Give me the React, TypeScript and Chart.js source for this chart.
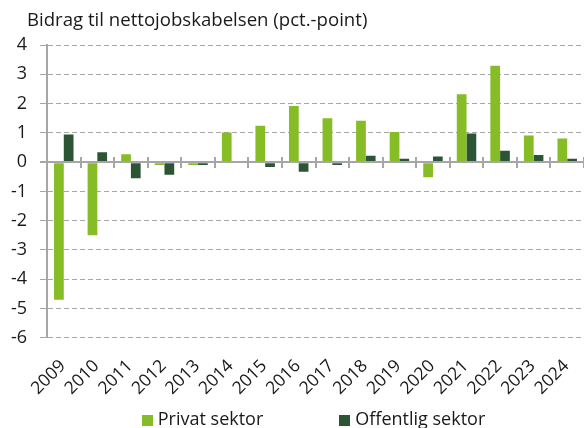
import React, { useEffect, useRef } from 'react';
import { Chart, registerables } from 'chart.js';

Chart.register(...registerables);

const TITLE = 'Bidrag til nettojobskabelsen (pct.-point)';
const years = ['2009', '2010', '2011', '2012', '2013', '2014', '2015', '2016', '2017', '2018', '2019', '2020', '2021', '2022', '2023', '2024'];
const privat = [-4.7, -2.5, 0.27, -0.1, -0.1, 1.01, 1.24, 1.92, 1.5, 1.41, 1.03, -0.52, 2.32, 3.29, 0.91, 0.81];
const offentlig = [0.94, 0.34, -0.55, -0.43, -0.1, 0.0, -0.17, -0.33, -0.1, 0.22, 0.12, 0.19, 0.98, 0.39, 0.24, 0.12];
const seriesNames = ['Privat sektor', 'Offentlig sektor'];
const seriesColors = ['#86bc25', '#2b5535'];
const yMin = -6;
const yMax = 4;
const yStep = 1;

const FONT = '"Open Sans", sans-serif';
const GRID = '#a6a6a6';
const TEXT = '#1a1a1a';

const titlePlugin = {
  id: 'leftTitle',
  afterDraw(chart: any) {
    const { ctx } = chart;
    ctx.save();
    ctx.font = `18.6px ${FONT}`;
    ctx.fillStyle = TEXT;
    ctx.textAlign = 'left';
    ctx.textBaseline = 'alphabetic';
    ctx.fillText(TITLE, 27, 26);
    ctx.restore();
  },
};

const zeroAxisPlugin = {
  id: 'zeroAxis',
  afterDatasetsDraw(chart: any) {
    const { ctx, chartArea, scales } = chart;
    const x = scales.x;
    const y = scales.y;
    const y0 = Math.round(y.getPixelForValue(0));
    ctx.save();
    ctx.strokeStyle = GRID;
    ctx.lineWidth = 2;
    ctx.beginPath();
    ctx.moveTo(chartArea.left - 7, y0);
    ctx.lineTo(chartArea.right, y0);
    const n = chart.data.labels.length;
    const step = (x.right - x.left) / n;
    for (let k = 1; k <= n; k++) {
      const px = Math.round(x.left + k * step);
      ctx.moveTo(px, y0 - 5);
      ctx.lineTo(px, y0 + 6);
    }
    ctx.stroke();
    ctx.restore();
  },
};

const legendPlugin = {
  id: 'bottomLegend',
  afterDraw(chart: any) {
    const { ctx, chartArea } = chart;
    ctx.save();
    ctx.font = `18px ${FONT}`;
    const box = 11;
    const gapText = 5;
    const gapItem = 76;
    const items = chart.data.datasets.map((ds: any) => ({
      text: ds.label,
      color: ds.backgroundColor,
      w: ctx.measureText(ds.label).width,
    }));
    const total = items.reduce((s: number, it: any) => s + box + gapText + it.w, 0) + gapItem * (items.length - 1);
    let x = (chartArea.left + chartArea.right) / 2 - 2 - total / 2;
    const baseline = chart.height - 3;
    ctx.textAlign = 'left';
    ctx.textBaseline = 'alphabetic';
    items.forEach((it: any) => {
      ctx.fillStyle = it.color;
      ctx.fillRect(Math.round(x), baseline - 10, box, box);
      ctx.fillStyle = TEXT;
      ctx.fillText(it.text, x + box + gapText, baseline);
      x += box + gapText + it.w + gapItem;
    });
    ctx.restore();
  },
};

export default function App() {
  const ref = useRef<HTMLCanvasElement>(null);
  useEffect(() => {
    document.body.style.margin = '0';
    const chart = new Chart(ref.current!, {
      type: 'bar',
      data: {
        labels: years,
        datasets: [
          { label: seriesNames[0], data: privat, backgroundColor: seriesColors[0], borderWidth: 0, categoryPercentage: 0.58, barPercentage: 1 },
          { label: seriesNames[1], data: offentlig, backgroundColor: seriesColors[1], borderWidth: 0, categoryPercentage: 0.58, barPercentage: 1 },
        ],
      },
      options: {
        responsive: false,
        animation: false,
        layout: { padding: { left: 11, right: 0, top: 45, bottom: 11 } },
        plugins: {
          legend: { display: false },
          title: { display: false },
          tooltip: { enabled: false },
        },
        scales: {
          x: {
            grid: { display: false, drawTicks: false },
            border: { display: false },
            ticks: {
              font: { family: FONT, size: 17.5 },
              color: TEXT,
              maxRotation: 45,
              minRotation: 45,
              padding: 18,
              labelOffset: -1,
              autoSkip: false,
            },
            afterFit: (s: any) => {
              s.paddingLeft = 0;
              s.paddingRight = 0;
            },
          },
          y: {
            min: yMin,
            max: yMax,
            ticks: {
              stepSize: yStep,
              font: { family: FONT, size: 18 },
              color: TEXT,
              padding: 13,
            },
            afterFit: (s: any) => {
              s.width = 36;
            },
            grid: {
              color: GRID,
              lineWidth: (c: any) => (c.tick && c.tick.value === 0 ? 2 : 1),
              tickLength: 7,
              tickColor: GRID,
            },
            border: {
              display: true,
              color: GRID,
              width: 2,
              dash: (c: any) => (c.tick && c.tick.value === 0 ? [] : [5, 3]),
            },
          },
        },
      },
      plugins: [titlePlugin, zeroAxisPlugin, legendPlugin],
    });
    return () => chart.destroy();
  }, []);
  return <canvas ref={ref} width={584} height={428} style={{ display: 'block' }} />;
}
